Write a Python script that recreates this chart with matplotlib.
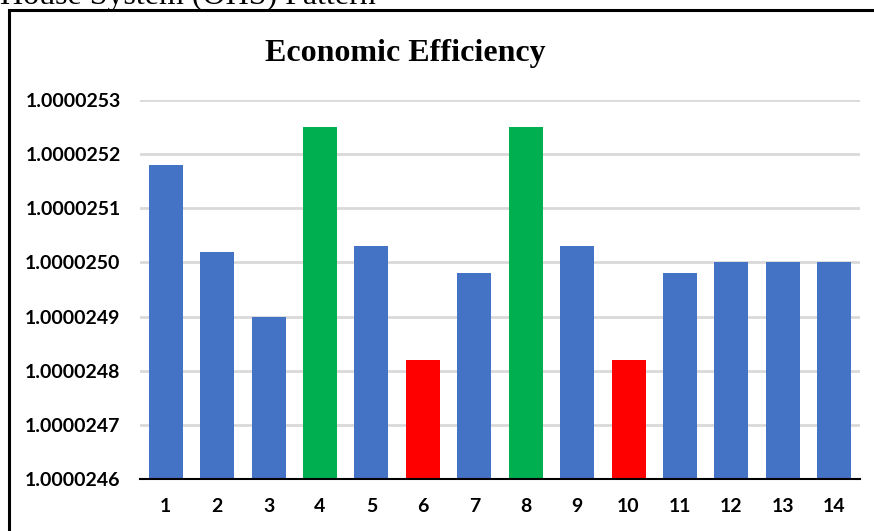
import matplotlib.pyplot as plt
from matplotlib.patches import Rectangle
from matplotlib.ticker import FuncFormatter

categories = [str(i) for i in range(1, 15)]
values = [1.00002518, 1.00002502, 1.00002490, 1.00002525, 1.00002503,
          1.00002482, 1.00002498, 1.00002525, 1.00002503, 1.00002482,
          1.00002498, 1.00002500, 1.00002500, 1.00002500]
bar_colors = ['#4472C4', '#4472C4', '#4472C4', '#00B050', '#4472C4',
              '#FF0000', '#4472C4', '#00B050', '#4472C4', '#FF0000',
              '#4472C4', '#4472C4', '#4472C4', '#4472C4']
yticks = [1.0000246, 1.0000247, 1.0000248, 1.0000249,
          1.0000250, 1.0000251, 1.0000252, 1.0000253]

W, H = 874, 531
fig = plt.figure(figsize=(W / 100, H / 100), dpi=100)

# frame round the chart (cut off at right and bottom like the screenshot)
fig.patches.append(Rectangle((9 / W, -0.1), 1.2, 1 - 9.5 / H + 0.1,
                             transform=fig.transFigure, fill=False,
                             edgecolor='black', linewidth=2.2))
# caption of the page above, only its lower part visible
fig.text(0, 1 - 4 / H, 'House System (OHS) Pattern', family='Liberation Serif',
         fontsize=23, ha='left', va='baseline')

ax = fig.add_axes([140 / W, 1 - 479 / H, 720 / W, 379 / H])
x = list(range(len(categories)))
ax.bar(x, values, width=0.66, color=bar_colors, zorder=3)
ax.set_xlim(-0.5, len(categories) - 0.5)
ax.set_ylim(yticks[0], yticks[-1])
ax.set_yticks(yticks)
ax.yaxis.set_major_formatter(FuncFormatter(lambda v, p: f'{v:.7f}'))
ax.set_xticks(x)
ax.set_xticklabels(categories)
ax.grid(axis='y', color='#d9d9d9', linewidth=2, zorder=0)
for s in ['top', 'right', 'left']:
    ax.spines[s].set_visible(False)
ax.spines['bottom'].set_linewidth(1.5)
ax.spines['bottom'].set_zorder(4)
ax.tick_params(length=0, labelsize=14)
ax.tick_params(axis='y', pad=14)
ax.tick_params(axis='x', pad=14)
for lab in ax.get_xticklabels() + ax.get_yticklabels():
    lab.set_fontfamily('Lato')
    lab.set_fontweight('bold')

fig.text(405 / W, 1 - 54 / H, 'Economic Efficiency', family='Liberation Serif',
         fontweight='bold', fontsize=23, ha='center', va='center')

fig.savefig('out.png', dpi=100)
